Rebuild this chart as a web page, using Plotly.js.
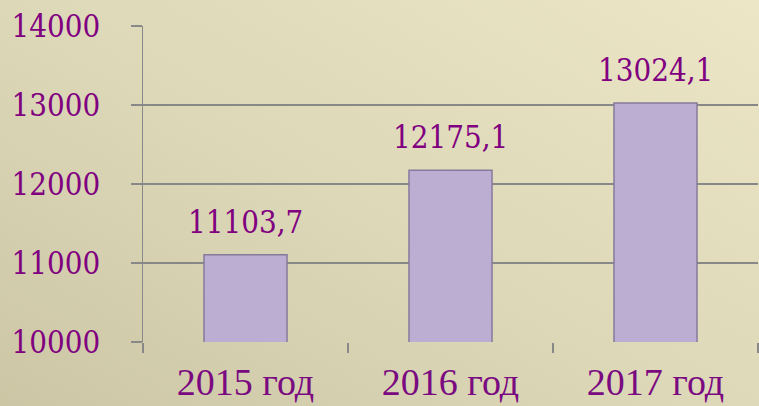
<!DOCTYPE html>
<html>
<head>
<meta charset="utf-8">
<script src="https://cdn.plot.ly/plotly-3.0.1.min.js"></script>
<style>
html,body{margin:0;padding:0;}
body{width:759px;height:406px;background:linear-gradient(30deg,#ccc6a5 0%,#dcd7b7 45%,#ece6c7 100%);}
#chart{width:759px;height:406px;}
</style>
</head>
<body>
<div id="chart"></div>
<script>
const categories = ["2015 год", "2016 год", "2017 год"];
const values = [11103.7, 12175.1, 13024.1];
const valueLabels = ["11103,7", "12175,1", "13024,1"];
const yTicks = [10000, 11000, 12000, 13000, 14000];

const purple = "#800080";
const trace = {
  type: "bar",
  x: categories,
  y: values,
  width: 0.405,
  marker: {color: "#bcadd3", line: {color: "#857a9c", width: 1.5}},
  hoverinfo: "none"
};
const annotations = categories.map((c, i) => ({
  x: c, y: values[i], text: valueLabels[i], showarrow: false,
  yanchor: "bottom", yshift: 13,
  font: {family: "DejaVu Serif Condensed, DejaVu Serif, serif", size: 31, color: purple}
}));
const layout = {
  width: 759, height: 406,
  margin: {l: 143, r: 1, t: 26, b: 64},
  paper_bgcolor: "rgba(0,0,0,0)",
  plot_bgcolor: "rgba(0,0,0,0)",
  showlegend: false,
  xaxis: {
    type: "category",
    tickson: "boundaries",
    ticks: "outside", ticklen: 10, tickwidth: 1.5, tickcolor: "#888888",
    ticklabelstandoff: 14,
    showline: false, showgrid: false, zeroline: false,
    tickfont: {family: "Liberation Serif, serif", size: 38, color: "#7a0a80"}
  },
  yaxis: {
    range: [10000, 14000],
    tickvals: yTicks,
    ticktext: yTicks.map(String),
    ticks: "outside", ticklen: 11, tickwidth: 1.5, tickcolor: "#888888",
    ticklabelstandoff: 24,
    showline: true, linecolor: "#888888", linewidth: 1.5,
    showgrid: true, gridcolor: "#888888", gridwidth: 1.5,
    zeroline: false,
    tickfont: {family: "DejaVu Serif Condensed, DejaVu Serif, serif", size: 31, color: purple}
  },
  annotations: annotations
};
Plotly.newPlot("chart", [trace], layout, {displayModeBar: false, staticPlot: true});
</script>
</body>
</html>
